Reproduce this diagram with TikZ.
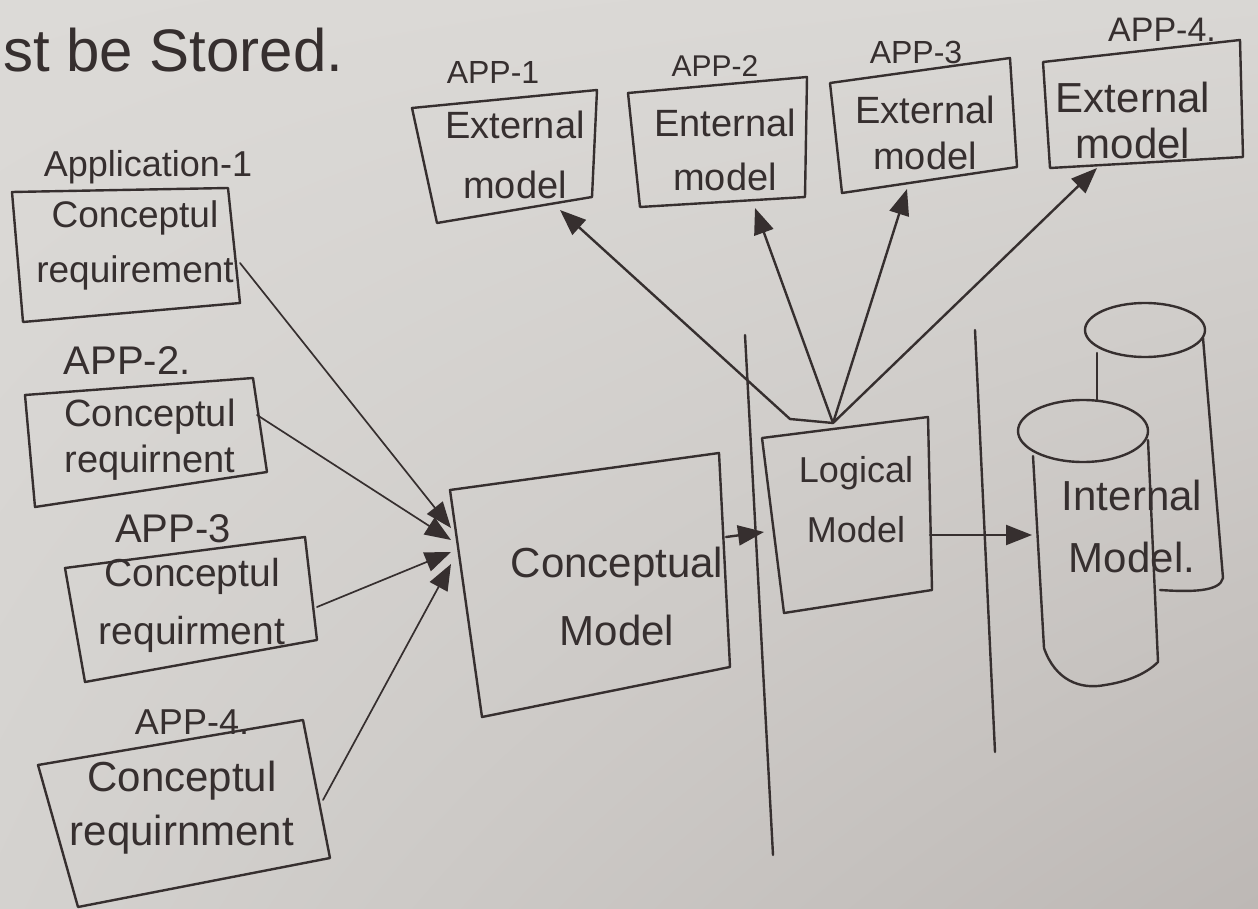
\documentclass[tikz,border=0pt]{standalone}
\usepackage{fontspec}
\setmainfont{Liberation Sans}
\usetikzlibrary{arrows.meta,shadings}
\definecolor{ink}{HTML}{362F2F}
\definecolor{paperUL}{HTML}{DCDAD7}
\definecolor{paperUR}{HTML}{D9D7D4}
\definecolor{paperLL}{HTML}{D4D2CF}
\definecolor{paperLR}{HTML}{BDB8B5}
\begin{document}
\begin{tikzpicture}[x=1pt,y=-1pt,
  pen/.style={draw=ink, line width=2.4pt, line join=round, line cap=round},
  thin pen/.style={draw=ink, line width=1.7pt, line cap=round},
  txt/.style={text=ink, align=center, inner sep=0pt},
  arr/.style={pen, -{Triangle[length=26pt,width=20pt]}},
  smallarr/.style={thin pen, -{Triangle[length=26pt,width=20pt]}},
]
\useasboundingbox (0,0) rectangle (1258,909);
\shade[upper left=paperUL, upper right=paperUR, lower left=paperLL, lower right=paperLR] (0,0) rectangle (1258,909);

% heading fragment
\node[txt, anchor=west, font=\fontsize{60}{64}\selectfont] (head) at (3,50) {st be Stored.};

% ---------- left column: conceptual requirements ----------
\node[txt, font=\fontsize{36}{40}\selectfont] (l1) at (148,167) {Application-1};
\draw[pen] (12,192) -- (228,188) -- (240,303) -- (23,322) -- cycle;
\node[txt, font=\fontsize{37}{55}\selectfont] (r1) at (135,245) {Conceptul\\requirement};

\node[txt, font=\fontsize{40}{44}\selectfont] (l2) at (127,361) {APP-2.};
\draw[pen] (25,395) -- (253,378) -- (267,472) -- (35,507) -- cycle;
\node[txt, font=\fontsize{38}{46}\selectfont] (r2) at (150,440) {Conceptul\\requirnent};

\node[txt, font=\fontsize{40}{44}\selectfont] (l3) at (173,529) {APP-3};
\draw[pen] (65,568) -- (305,537) -- (317,640) -- (85,682) -- cycle;
\node[txt, font=\fontsize{39}{58}\selectfont] (r3) at (192,605) {Conceptul\\requirment};

\node[txt, font=\fontsize{36}{40}\selectfont] (l4) at (192,722) {APP-4.};
\draw[pen] (38,765) -- (303,720) -- (330,858) -- (78,907) -- cycle;
\node[txt, font=\fontsize{42}{54}\selectfont] (r4) at (182,808) {Conceptul\\requirnment};

% connector end points on the requirement boxes
\coordinate (r1e) at (240,263);
\coordinate (r2e) at (257,415);
\coordinate (r3e) at (317,607);
\coordinate (r4e) at (323,800);

% ---------- conceptual model ----------
\draw[pen] (450,490) -- (719,453) -- (730,667) -- (482,717) -- cycle;
\node[txt, font=\fontsize{42}{68}\selectfont] (cm) at (617,596) {Conceptual\\Model};
\coordinate (cmin1) at (451,528);
\coordinate (cmin2) at (451,540);
\coordinate (cmin3) at (451,552);
\coordinate (cmin4) at (451,564);
\coordinate (cmout) at (726,537);

\draw[smallarr] (r1e) -- (cmin1);
\draw[smallarr] (r2e) -- (cmin2);
\draw[smallarr] (r3e) -- (cmin3);
\draw[smallarr] (r4e) -- (cmin4);

% ---------- separating lines ----------
\coordinate (v1a) at (745,335);
\coordinate (v1b) at (773,855);
\coordinate (v2a) at (975,330);
\coordinate (v2b) at (995,752);
\draw[pen] (v1a) -- (v1b);
\draw[pen] (v2a) -- (v2b);

% ---------- logical model ----------
\draw[pen] (762,438) -- (928,417) -- (932,590) -- (784,613) -- cycle;
\node[txt, font=\fontsize{36}{60}\selectfont] (lm) at (856,500) {Logical\\Model};
\coordinate (lmin) at (764,532);
\coordinate (lmout) at (930,535);
\coordinate (lmtop) at (833,423);
\coordinate (lmbend) at (790,419);

\draw[arr] (cmout) -- (lmin);

% ---------- external models ----------
\node[txt, font=\fontsize{32}{36}\selectfont] (t1) at (493,72) {APP-1};
\draw[pen] (412,108) -- (597,90) -- (592,197) -- (437,223) -- cycle;
\node[txt, font=\fontsize{38}{60}\selectfont] (e1) at (515,155) {External\\model};

\node[txt, font=\fontsize{30}{34}\selectfont] (t2) at (715,66) {APP-2};
\draw[pen] (628,93) -- (807,77) -- (805,197) -- (640,207) -- cycle;
\node[txt, font=\fontsize{38}{54}\selectfont] (e2) at (725,150) {Enternal\\model};

\node[txt, font=\fontsize{32}{36}\selectfont] (t3) at (916,52) {APP-3};
\draw[pen] (830,83) -- (1010,58) -- (1017,167) -- (842,193) -- cycle;
\node[txt, font=\fontsize{38}{46}\selectfont] (e3) at (925,133) {External\\model};

\node[txt, font=\fontsize{34}{38}\selectfont] (t4) at (1162,30) {APP-4.};
\draw[pen] (1043,62) -- (1240,40) -- (1243,157) -- (1050,168) -- cycle;
\node[txt, font=\fontsize{42}{46}\selectfont] (e4) at (1133,120) {External\\model};

\coordinate (e1in) at (560,210);
\coordinate (e2in) at (755,208);
\coordinate (e3in) at (907,189);
\coordinate (e4in) at (1097,168);

\draw[arr] (lmtop) -- (lmbend) -- (e1in);
\draw[arr] (lmtop) -- (e2in);
\draw[arr] (lmtop) -- (e3in);
\draw[arr] (lmtop) -- (e4in);

% ---------- internal model (two cylinders) ----------
\draw[pen] (1145,330) ellipse [x radius=60pt, y radius=27pt];
\draw[pen] (1203,338) -- (1223,578) .. controls (1220,592) and (1190,592) .. (1160,590);
\draw[pen] (1097,353) -- (1097,401);

\draw[pen] (1083,431) ellipse [x radius=65pt, y radius=31pt];
\draw[pen] (1033,456) -- (1044,648) .. controls (1055,680) and (1080,690) .. (1105,685)
  .. controls (1125,682) and (1145,675) .. (1158,662) -- (1148,440);
\node[txt, font=\fontsize{42}{62}\selectfont] (im) at (1132,526) {Internal\\Model.};
\coordinate (imin) at (1032,535);

\draw[arr] (lmout) -- (imin);
\end{tikzpicture}
\end{document}
